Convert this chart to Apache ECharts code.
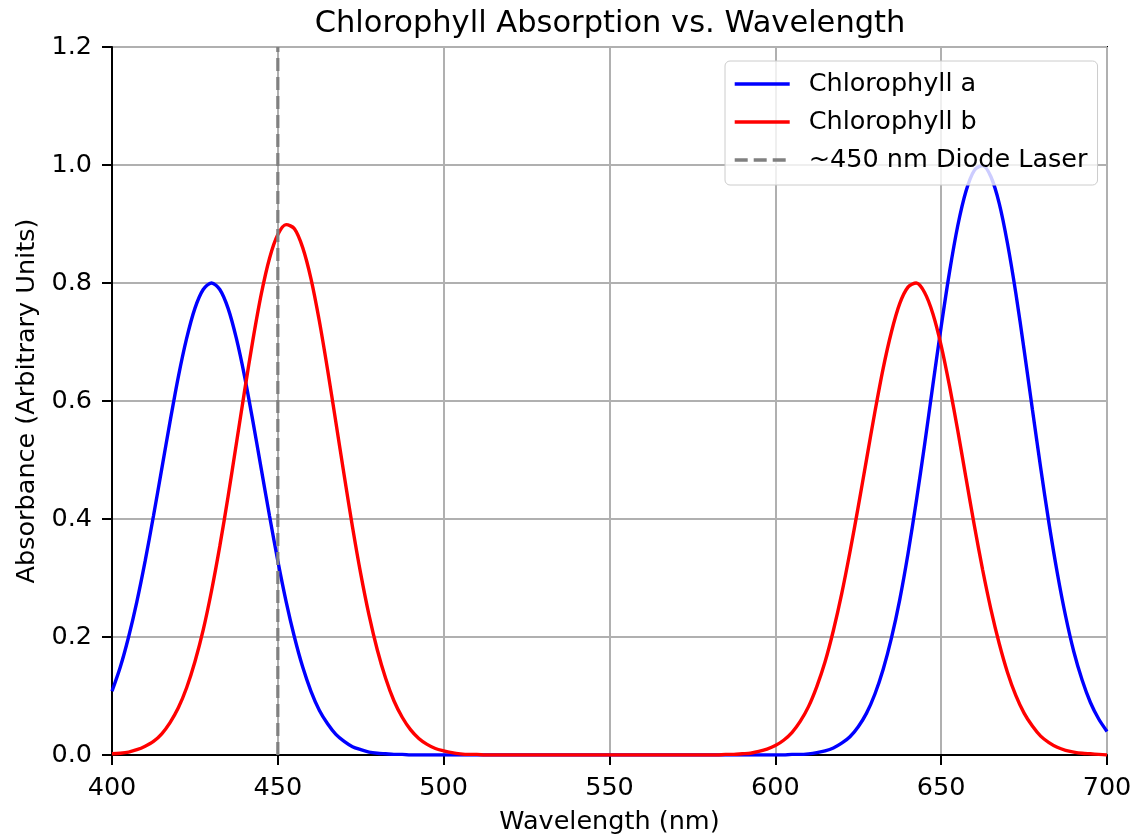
<!DOCTYPE html>
<html>
<head>
<meta charset="utf-8">
<script src="https://cdn.jsdelivr.net/npm/echarts@6/dist/echarts.min.js"></script>
<style>
html,body{margin:0;padding:0;background:#fff;}
#chart{width:1131px;height:835px;}
</style>
</head>
<body>
<div id="chart"></div>
<script>
// Wavelength samples (nm), rows of 10
const wavelengths = [
  400,402.5,405,407.5,410,412.5,415,417.5,420,422.5,
  425,427.5,430,432.5,435,437.5,440,442.5,445,447.5,
  450,452.5,455,457.5,460,462.5,465,467.5,470,472.5,
  475,477.5,480,482.5,485,487.5,490,492.5,495,497.5,
  500,502.5,505,507.5,510,512.5,515,517.5,520,522.5,
  525,527.5,530,532.5,535,537.5,540,542.5,545,547.5,
  550,552.5,555,557.5,560,562.5,565,567.5,570,572.5,
  575,577.5,580,582.5,585,587.5,590,592.5,595,597.5,
  600,602.5,605,607.5,610,612.5,615,617.5,620,622.5,
  625,627.5,630,632.5,635,637.5,640,642.5,645,647.5,
  650,652.5,655,657.5,660,662.5,665,667.5,670,672.5,
  675,677.5,680,682.5,685,687.5,690,692.5,695,697.5,
  700
];
// Chlorophyll a absorbance
const chlA = [
  0.108,0.149,0.200,0.260,0.329,0.405,0.485,0.565,0.641,0.706,
  0.757,0.789,0.800,0.789,0.757,0.706,0.641,0.565,0.485,0.405,
  0.329,0.260,0.200,0.149,0.108,0.076,0.053,0.035,0.023,0.014,
  0.009,0.005,0.003,0.002,0.001,0.001,0,0,0,0,
  0,0,0,0,0,0,0,0,0,0,
  0,0,0,0,0,0,0,0,0,0,
  0,0,0,0,0,0,0,0,0,0,
  0,0,0,0,0,0,0,0,0,0,
  0,0,0.001,0.001,0.002,0.004,0.007,0.012,0.020,0.031,
  0.048,0.071,0.103,0.145,0.198,0.263,0.341,0.430,0.526,0.627,
  0.726,0.818,0.897,0.956,0.991,0.999,0.980,0.935,0.867,0.783,
  0.687,0.586,0.487,0.393,0.309,0.236,0.175,0.127,0.089,0.061,
  0.040
];
// Chlorophyll b absorbance
const chlB = [
  0.002,0.003,0.005,0.009,0.015,0.023,0.036,0.055,0.080,0.114,
  0.158,0.212,0.278,0.354,0.438,0.528,0.618,0.704,0.781,0.842,
  0.882,0.899,0.892,0.860,0.807,0.736,0.653,0.564,0.474,0.387,
  0.307,0.237,0.178,0.130,0.092,0.064,0.043,0.028,0.018,0.011,
  0.007,0.004,0.002,0.001,0.001,0,0,0,0,0,
  0,0,0,0,0,0,0,0,0,0,
  0,0,0,0,0,0,0,0,0,0,
  0,0,0,0,0.001,0.001,0.002,0.003,0.006,0.010,
  0.016,0.025,0.038,0.057,0.082,0.116,0.158,0.211,0.273,0.344,
  0.421,0.501,0.581,0.655,0.717,0.765,0.793,0.800,0.784,0.748,
  0.694,0.626,0.550,0.469,0.389,0.314,0.247,0.189,0.140,0.101,
  0.071,0.049,0.032,0.021,0.013,0.008,0.005,0.003,0.002,0.001,
  0.000
];
// Diode laser marker
const laserX = [450, 450];
const laserY = [0, 1.2];
const xTicks = [400,450,500,550,600,650,700];
const yTicks = [0.0,0.2,0.4,0.6,0.8,1.0,1.2];

const FONT = 'DejaVu Sans';
const FS = 25.5;
const pairs = (xs, ys) => xs.map((x, i) => [x, ys[i]]);

const chart = echarts.init(document.getElementById('chart'), null, {renderer: 'canvas'});
chart.setOption({
  animation: false,
  backgroundColor: '#ffffff',
  textStyle: {fontFamily: FONT},
  title: {
    text: 'Chlorophyll Absorption vs. Wavelength',
    left: 605, top: 4, textAlign: 'center',
    textStyle: {fontFamily: FONT, fontSize: 30.5, fontWeight: 'normal', color: '#000'}
  },
  grid: {
    left: 112, right: 24, top: 47, bottom: 80,
    containLabel: false, outerBoundsMode: 'none',
    show: true, borderColor: '#000', borderWidth: 2, backgroundColor: 'transparent'
  },
  legend: {
    left: 725, top: 61, orient: 'vertical',
    padding: [10, 10, 12, 8],
    itemWidth: 55, itemHeight: 26, itemGap: 12,
    backgroundColor: 'rgba(255,255,255,0.8)',
    borderColor: '#cccccc', borderWidth: 1, borderRadius: 5,
    itemStyle: {color: 'rgba(0,0,0,0)', borderWidth: 0, opacity: 0},
    lineStyle: {width: 3.4},
    textStyle: {fontFamily: FONT, fontSize: FS, color: '#000', padding: [0, 0, 0, 14]},
    data: ['Chlorophyll a', 'Chlorophyll b', '~450 nm Diode Laser']
  },
  xAxis: {
    type: 'value', min: xTicks[0], max: xTicks[xTicks.length - 1], interval: 50,
    name: 'Wavelength (nm)', nameLocation: 'middle', nameGap: 54,
    nameTextStyle: {fontFamily: FONT, fontSize: FS, color: '#000'},
    axisLine: {show: true, onZero: false, lineStyle: {color: '#000', width: 2}},
    axisTick: {show: true, length: 10, lineStyle: {color: '#000', width: 2}},
    axisLabel: {fontFamily: FONT, fontSize: FS, color: '#000', margin: 20},
    splitLine: {show: true, lineStyle: {color: '#b0b0b0', width: 2}}
  },
  yAxis: {
    type: 'value', min: yTicks[0], max: yTicks[yTicks.length - 1], interval: 0.2,
    name: 'Absorbance (Arbitrary Units)', nameLocation: 'middle', nameGap: 72, nameRotate: 90,
    nameTextStyle: {fontFamily: FONT, fontSize: FS, color: '#000'},
    axisLine: {show: true, onZero: false, lineStyle: {color: '#000', width: 2}},
    axisTick: {show: true, length: 10, lineStyle: {color: '#000', width: 2}},
    axisLabel: {fontFamily: FONT, fontSize: FS, color: '#000', margin: 20,
      formatter: v => v.toFixed(1)},
    splitLine: {show: true, lineStyle: {color: '#b0b0b0', width: 2}}
  },
  series: [
    {
      name: 'Chlorophyll a', type: 'line', data: pairs(wavelengths, chlA),
      showSymbol: false, symbol: 'none', smooth: 0.3,
      lineStyle: {color: '#0000ff', width: 3.4}, itemStyle: {color: '#0000ff'}
    },
    {
      name: 'Chlorophyll b', type: 'line', data: pairs(wavelengths, chlB),
      showSymbol: false, symbol: 'none', smooth: 0.3,
      lineStyle: {color: '#ff0000', width: 3.4}, itemStyle: {color: '#ff0000'}
    },
    {
      name: '~450 nm Diode Laser', type: 'line', data: pairs(laserX, laserY),
      showSymbol: false, symbol: 'none',
      lineStyle: {color: '#808080', width: 3.2, type: [13, 6]}, itemStyle: {color: '#808080'}
    }
  ]
});
</script>
</body>
</html>
